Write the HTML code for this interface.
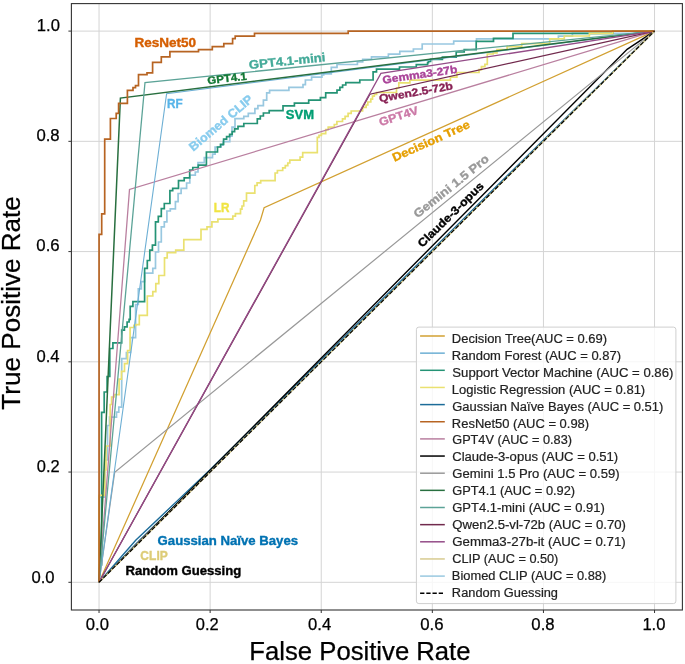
<!DOCTYPE html>
<html><head><meta charset="utf-8"><title>ROC</title><style>html,body{margin:0;padding:0;background:#fff;}svg{display:block;will-change:transform;}.ds{filter:saturate(0.7);}text{font-family:"Liberation Sans",sans-serif;}</style></head><body>
<svg width="685" height="664" viewBox="0 0 685 664">
<rect width="685" height="664" fill="#fff"/>
<defs><clipPath id="clipax"><rect x="71.4" y="3.6" width="611.0" height="606.4"/></clipPath></defs>
<path d="M99.04 3.6V610.0M71.4 582.30H682.4M210.14 3.6V610.0M71.4 472.06H682.4M321.24 3.6V610.0M71.4 361.82H682.4M432.34 3.6V610.0M71.4 251.58H682.4M543.44 3.6V610.0M71.4 141.34H682.4M654.54 3.6V610.0M71.4 31.10H682.4" stroke="#d4d4d4" stroke-width="1" fill="none"/>
<g clip-path="url(#clipax)"><g class="ds">
<path d="M99.04 582.3 V497.2 H104.8 V460 H107.5 V425.5 H109.5 V417.1 H116.5 V412.2 H118.8 V407.2 H121.7 V358.6 H126.4 V352.5 H130.5 V337.6 H135.6 V304.5 H138.3 V288.8 H141.3 V281.6 H144.6 V273.1 H152.8 V268.3 H155.5 V252 H158.5 V242 H161.3 V226.9 H164.3 V221.8 H166.9 V211 H170.3 V208.8 H175.4 V201.6 H178.1 V193.5 H181.1 V188.3 H186.6 V183 H189.8 V175.1 H195.3 V172 H198 V162.7 H204.3 V157.6 H212.5 V154.2 H215.1 V147 H221.1 V145.2 H223 V141.6 H229.8 V136.1 H232 V127.1 H235 V118.7 H243.8 V116.3 H248.3 V113.3 H254.9 V108.7 H257.9 V105.6 H263.4 V100.2 H266.7 V92.9 H269.6 V90.3 H288.9 V87.3 H303 V84.6 H305.4 V80 H311.6 V77.2 H321.9 V75 H323.7 V73.8 H331.3 V67.3 H337 V64.5 H357.4 V62 H362.7 V59.3 H371.5 V56.9 H388.4 V54.2 H399.8 V51.3 H413.4 V49 H422.2 V44 H453.7 V41.1 H476.5 V38.8 H558.4 V36.2 H572.4 V33.3 H640 V31.1 H654.55" stroke="#88CCEE" stroke-width="1.7" fill="none" stroke-linejoin="miter"/>
<path d="M99.04 582.30 L260.50 220.00 L264.10 207.80 L654.54 31.10" stroke="#E69F00" stroke-width="1.25" fill="none" stroke-linejoin="miter" stroke-linecap="butt"/>
<path d="M99.04 582.3 V565 H101.6 V412.3 H104.2 V392 H107.1 V376.5 H109.8 V348.5 H112.9 V342.8 H121.7 V330.2 H124.4 V326.8 H127.1 V322 H129.1 V319.3 H130.2 V306.3 H132.9 V301.7 H144.6 V268.3 H147.3 V260.5 H149.8 V250.2 H152.4 V245.1 H155.5 V221.8 H158.3 V216.4 H161.3 V208.6 H164.3 V203.5 H169.9 V190.7 H172.7 V188.3 H178.5 V180.6 H184.2 V177.8 H189.7 V170.1 H192.8 V167.5 H198.3 V165.1 H206.4 V152 H217.5 V147 H220.5 V144.3 H223.6 V139.2 H226.6 V136.7 H229.6 V134.3 H232.2 V131.6 H234.6 V128.9 H238 V126.3 H243.8 V123.5 H257.3 V118.9 H260.3 V116 H263.4 V113 H269.2 V110.7 H283 V105.8 H294.4 V103.1 H308.7 V100.2 H320.4 V97.6 H325.7 V92.9 H337 V90.2 H339.9 V87.3 H342.6 V85 H345.8 V82.6 H359.8 V80 H373.1 V71.9 H376.5 V69.2 H399.5 V67 H416.3 V64.7 H427.6 V62.6 H428.5 V61.5 H430.6 V59.3 H442.4 V57.2 H456.2 V52 H464.2 V49.6 H476.2 V41.4 H493.5 V38.4 H513 V33.4 H612.7 V31.1 H654.55" stroke="#009E73" stroke-width="1.7" fill="none" stroke-linejoin="miter"/>
<path d="M99.04 582.3 V495.3 H104.8 V470 H106 V446 H110.2 V404.5 H111.6 V397 H114.3 V394.6 H119.1 V379.2 H121.5 V371.3 H124.5 V363.6 H127.6 V350.5 H130.1 V327.5 H133.9 V325.4 H135.9 V324.7 H139.3 V315.3 H147.3 V296 H152.8 V291.6 H155.8 V283.6 H158.8 V275.5 H164.5 V257.8 H167.2 V252.7 H175.7 V250.2 H183.8 V239.6 H201 V229.3 H207 V226.9 H211.9 V221.8 H217.9 V219.2 H232.8 V216.2 H235.4 V213.6 H240.5 V209.1 H242 V206 H243.7 V200.8 H246.5 V193.1 H254.8 V185.5 H257.1 V182.9 H260.7 V180.7 H275.1 V173 H277.4 V170.5 H282.7 V167.9 H285.3 V165.6 H287.8 V163 H289.8 V160.2 H300.1 V157.2 H302.7 V152.6 H317.3 V137.3 H319 V135.3 H321.4 V133.7 H325.7 V129.6 H328.2 V127.1 H334.3 V124.5 H336.9 V121.5 H342.5 V118.9 H345.1 V116.4 H348.1 V113.3 H351.2 V111 H362.6 V107.3 H366.1 V105 H367.8 V102 H370.8 V99.1 H372.5 V96.2 H374.3 V94.5 H376.6 V92.5 H396.5 V88 H398.8 V82.8 H409.9 V80.1 H450.4 V77.2 H456.9 V72.5 H479 V69.6 H481.4 V66.7 H484.9 V64.3 H487.3 V54 H493.1 V52.8 H497 V49.5 H507.1 V46.6 H521.7 V43.7 H549.7 V38.9 H564.3 V36 H589.4 V33.3 H612.7 V31.1 H654.55" stroke="#F0E442" stroke-width="1.7" fill="none" stroke-linejoin="miter"/>
<path d="M99.04 582.30 L135.70 540.32 L210.14 469.66 L265.69 415.04 L376.79 304.80 L487.89 194.86 L571.22 112.68 L654.54 31.10" stroke="#0072B2" stroke-width="1.4" fill="none" stroke-linejoin="miter" stroke-linecap="butt"/>
<path d="M99.04 582.30 L137.93 541.32 L210.14 470.96 L265.69 416.34 L376.79 306.20 L654.54 31.10" stroke="#0072B2" stroke-width="0.9" fill="none" stroke-linejoin="miter" stroke-linecap="butt"/>
<path d="M99.04 582.30 L129.50 189.50 L654.54 31.10" stroke="#CC79A7" stroke-width="1.3" fill="none" stroke-linejoin="miter" stroke-linecap="butt"/>
<path d="M99.04 582.30 L627.10 49.30 L654.54 31.10" stroke="#000000" stroke-width="1.4" fill="none" stroke-linejoin="miter" stroke-linecap="butt"/>
<path d="M99.04 582.30 L114.70 472.20 L654.54 31.10" stroke="#999999" stroke-width="1.2" fill="none" stroke-linejoin="miter" stroke-linecap="butt"/>
<path d="M99.04 582.30 L166.60 93.70 L654.54 31.10" stroke="#56B4E9" stroke-width="1.1" fill="none" stroke-linejoin="miter" stroke-linecap="butt"/>
<path d="M99.04 582.30 L120.40 98.10 L654.54 31.10" stroke="#117733" stroke-width="1.5" fill="none" stroke-linejoin="miter" stroke-linecap="butt"/>
<path d="M99.04 582.30 L145.00 82.50 L654.54 31.10" stroke="#44AA99" stroke-width="1.3" fill="none" stroke-linejoin="miter" stroke-linecap="butt"/>
<path d="M99.04 582.30 L369.90 94.20 L654.54 31.10" stroke="#882255" stroke-width="1.3" fill="none" stroke-linejoin="miter" stroke-linecap="butt"/>
<path d="M99.04 582.30 L380.90 73.40 L654.54 31.10" stroke="#AA4499" stroke-width="1.25" fill="none" stroke-linejoin="miter" stroke-linecap="butt"/>
<path d="M99.04 582.30 L654.54 31.10" stroke="#DDCC77" stroke-width="1.5" fill="none" stroke-linejoin="miter" stroke-linecap="butt"/>
<path d="M99.07 582.3 V234.4 H101.7 V213.9 H104.7 V139.2 H110.4 V118.5 H116.2 V113.4 H118.6 V103.4 H127.4 V90.4 H133 V87.7 H135.5 V85.7 H138.5 V74.7 H147 V72.8 H152.6 V62.3 H161.3 V56.9 H169.9 V51.7 H198.5 V49.7 H212.3 V46.7 H223.8 V43.7 H232.6 V38.6 H235.2 V36.2 H254.5 V33.4 H348.2 V31.1 H654.55" stroke="#D55E00" stroke-width="1.7" fill="none" stroke-linejoin="miter"/>
<path d="M99.04 582.30 L654.54 31.10" stroke="#000" stroke-width="1.2" fill="none" stroke-linejoin="miter" stroke-linecap="butt" stroke-dasharray="4.3 1.9"/>
</g></g>
<rect x="71.4" y="3.6" width="611.00" height="606.40" fill="none" stroke="#333" stroke-width="1.1"/>
<path d="M99.04 610.0v3.0M71.4 582.30h-3.0M210.14 610.0v3.0M71.4 472.06h-3.0M321.24 610.0v3.0M71.4 361.82h-3.0M432.34 610.0v3.0M71.4 251.58h-3.0M543.44 610.0v3.0M71.4 141.34h-3.0M654.54 610.0v3.0M71.4 31.10h-3.0" stroke="#333" stroke-width="1" fill="none"/>
<text x="97.40" y="630.00" font-size="16.00" fill="#000" text-anchor="middle" textLength="23.15" lengthAdjust="spacingAndGlyphs" stroke="#000" stroke-width="0.25">0.0</text>
<text x="207.20" y="630.00" font-size="16.00" fill="#000" text-anchor="middle" textLength="22.86" lengthAdjust="spacingAndGlyphs" stroke="#000" stroke-width="0.25">0.2</text>
<text x="319.60" y="630.00" font-size="16.00" fill="#000" text-anchor="middle" textLength="23.13" lengthAdjust="spacingAndGlyphs" stroke="#000" stroke-width="0.25">0.4</text>
<text x="431.90" y="630.00" font-size="16.00" fill="#000" text-anchor="middle" textLength="23.32" lengthAdjust="spacingAndGlyphs" stroke="#000" stroke-width="0.25">0.6</text>
<text x="543.00" y="630.00" font-size="16.00" fill="#000" text-anchor="middle" textLength="23.24" lengthAdjust="spacingAndGlyphs" stroke="#000" stroke-width="0.25">0.8</text>
<text x="653.90" y="630.00" font-size="16.00" fill="#000" text-anchor="middle" textLength="23.05" lengthAdjust="spacingAndGlyphs" stroke="#000" stroke-width="0.25">1.0</text>
<text x="42.95" y="583.20" font-size="16.00" fill="#000" text-anchor="middle" textLength="23.15" lengthAdjust="spacingAndGlyphs" stroke="#000" stroke-width="0.25">0.0</text>
<text x="48.31" y="471.76" font-size="16.00" fill="#000" text-anchor="middle" textLength="22.86" lengthAdjust="spacingAndGlyphs" stroke="#000" stroke-width="0.25">0.2</text>
<text x="47.98" y="361.52" font-size="16.00" fill="#000" text-anchor="middle" textLength="23.13" lengthAdjust="spacingAndGlyphs" stroke="#000" stroke-width="0.25">0.4</text>
<text x="48.01" y="251.28" font-size="16.00" fill="#000" text-anchor="middle" textLength="23.32" lengthAdjust="spacingAndGlyphs" stroke="#000" stroke-width="0.25">0.6</text>
<text x="48.05" y="141.04" font-size="16.00" fill="#000" text-anchor="middle" textLength="23.24" lengthAdjust="spacingAndGlyphs" stroke="#000" stroke-width="0.25">0.8</text>
<text x="48.39" y="30.80" font-size="16.00" fill="#000" text-anchor="middle" textLength="23.05" lengthAdjust="spacingAndGlyphs" stroke="#000" stroke-width="0.25">1.0</text>
<text x="359.95" y="660.20" font-size="25.00" fill="#000" text-anchor="middle" textLength="221.18" lengthAdjust="spacingAndGlyphs" stroke="#000" stroke-width="0.25">False Positive Rate</text>
<text x="19.90" y="302.90" font-size="25.00" fill="#000" text-anchor="middle" textLength="213.53" lengthAdjust="spacingAndGlyphs" stroke="#000" stroke-width="0.25" transform="rotate(-90 19.9 302.90)">True Positive Rate</text>
<text transform="translate(165.25 42.80) rotate(0)" x="0" y="4.17" font-size="12.10" font-weight="bold" fill="#D55E00" stroke="#D55E00" stroke-width="0.35" text-anchor="middle" textLength="61.77" lengthAdjust="spacingAndGlyphs">ResNet50</text>
<text transform="translate(287.05 60.95) rotate(-5.8)" x="0" y="4.17" font-size="12.10" font-weight="bold" fill="#44AA99" stroke="#44AA99" stroke-width="0.35" text-anchor="middle" textLength="76.84" lengthAdjust="spacingAndGlyphs">GPT4.1-mini</text>
<text transform="translate(227.00 78.35) rotate(-6.5)" x="0" y="3.66" font-size="10.60" font-weight="bold" fill="#117733" stroke="#117733" stroke-width="0.35" text-anchor="middle" textLength="39.45" lengthAdjust="spacingAndGlyphs">GPT4.1</text>
<text transform="translate(174.80 103.45) rotate(0)" x="0" y="4.17" font-size="12.10" font-weight="bold" fill="#56B4E9" stroke="#56B4E9" stroke-width="0.35" text-anchor="middle" textLength="15.61" lengthAdjust="spacingAndGlyphs">RF</text>
<text transform="translate(220.80 122.90) rotate(-40.3)" x="0" y="4.21" font-size="12.20" font-weight="bold" fill="#88CCEE" stroke="#88CCEE" stroke-width="0.35" text-anchor="middle" textLength="79.24" lengthAdjust="spacingAndGlyphs">Biomed CLIP</text>
<text transform="translate(299.95 114.50) rotate(0)" x="0" y="4.17" font-size="12.10" font-weight="bold" fill="#009E73" stroke="#009E73" stroke-width="0.35" text-anchor="middle" textLength="28.16" lengthAdjust="spacingAndGlyphs">SVM</text>
<text transform="translate(419.85 74.45) rotate(-8.5)" x="0" y="3.73" font-size="10.80" font-weight="bold" fill="#AA4499" stroke="#AA4499" stroke-width="0.35" text-anchor="middle" textLength="75.47" lengthAdjust="spacingAndGlyphs">Gemma3-27b</text>
<text transform="translate(415.95 92.00) rotate(-10)" x="0" y="3.73" font-size="10.80" font-weight="bold" fill="#882255" stroke="#882255" stroke-width="0.35" text-anchor="middle" textLength="74.66" lengthAdjust="spacingAndGlyphs">Qwen2.5-72b</text>
<text transform="translate(398.55 116.05) rotate(-18)" x="0" y="4.00" font-size="11.60" font-weight="bold" fill="#CC79A7" stroke="#CC79A7" stroke-width="0.35" text-anchor="middle" textLength="40.61" lengthAdjust="spacingAndGlyphs">GPT4V</text>
<text transform="translate(430.90 140.85) rotate(-24.4)" x="0" y="4.07" font-size="11.80" font-weight="bold" fill="#E69F00" stroke="#E69F00" stroke-width="0.35" text-anchor="middle" textLength="83.76" lengthAdjust="spacingAndGlyphs">Decision Tree</text>
<text transform="translate(451.10 186.25) rotate(-38.8)" x="0" y="4.07" font-size="11.80" font-weight="bold" fill="#999999" stroke="#999999" stroke-width="0.35" text-anchor="middle" textLength="93.03" lengthAdjust="spacingAndGlyphs">Gemini 1.5 Pro</text>
<text transform="translate(450.60 214.50) rotate(-44.4)" x="0" y="3.97" font-size="11.50" font-weight="bold" fill="#000000" stroke="#000000" stroke-width="0.35" text-anchor="middle" textLength="87.41" lengthAdjust="spacingAndGlyphs">Claude-3-opus</text>
<text transform="translate(221.60 208.30) rotate(0)" x="0" y="4.17" font-size="12.10" font-weight="bold" fill="#F0E442" stroke="#F0E442" stroke-width="0.35" text-anchor="middle" textLength="15.63" lengthAdjust="spacingAndGlyphs">LR</text>
<text transform="translate(227.80 540.45) rotate(0)" x="0" y="4.17" font-size="12.10" font-weight="bold" fill="#0072B2" stroke="#0072B2" stroke-width="0.35" text-anchor="middle" textLength="140.49" lengthAdjust="spacingAndGlyphs">Gaussian Naïve Bayes</text>
<text transform="translate(154.05 555.80) rotate(0)" x="0" y="4.17" font-size="12.10" font-weight="bold" fill="#DDCC77" stroke="#DDCC77" stroke-width="0.35" text-anchor="middle" textLength="27.38" lengthAdjust="spacingAndGlyphs">CLIP</text>
<text transform="translate(183.35 570.35) rotate(0)" x="0" y="4.17" font-size="12.10" font-weight="bold" fill="#000" stroke="#000" stroke-width="0.35" text-anchor="middle" textLength="115.80" lengthAdjust="spacingAndGlyphs">Random Guessing</text>
<rect x="416.4" y="327.1" width="259.50" height="276.50" rx="2.5" ry="2.5" fill="#fff" fill-opacity="0.8" stroke="#cfcfcf" stroke-width="1"/>
<path class="ds" d="M420.1 336.00H444.8" stroke="#E69F00" stroke-width="1.5"/>
<text x="451.86" y="342.70" font-size="12.0" fill="#222" stroke="#222" stroke-width="0.2" textLength="155.22" lengthAdjust="spacingAndGlyphs">Decision Tree(AUC = 0.69)</text>
<path class="ds" d="M420.1 353.15H444.8" stroke="#56B4E9" stroke-width="1.5"/>
<text x="451.86" y="359.66" font-size="12.0" fill="#222" stroke="#222" stroke-width="0.2" textLength="169.13" lengthAdjust="spacingAndGlyphs">Random Forest (AUC = 0.87)</text>
<path class="ds" d="M420.1 370.30H444.8" stroke="#009E73" stroke-width="1.5"/>
<text x="452.31" y="376.62" font-size="12.0" fill="#222" stroke="#222" stroke-width="0.2" textLength="221.08" lengthAdjust="spacingAndGlyphs">Support Vector Machine (AUC = 0.86)</text>
<path class="ds" d="M420.1 387.45H444.8" stroke="#F0E442" stroke-width="1.5"/>
<text x="451.86" y="393.58" font-size="12.0" fill="#222" stroke="#222" stroke-width="0.2" textLength="193.35" lengthAdjust="spacingAndGlyphs">Logistic Regression (AUC = 0.81)</text>
<path class="ds" d="M420.1 404.60H444.8" stroke="#0072B2" stroke-width="1.5"/>
<text x="452.25" y="410.54" font-size="12.0" fill="#222" stroke="#222" stroke-width="0.2" textLength="211.08" lengthAdjust="spacingAndGlyphs">Gaussian Naïve Bayes (AUC = 0.51)</text>
<path class="ds" d="M420.1 421.75H444.8" stroke="#D55E00" stroke-width="1.5"/>
<text x="451.86" y="427.50" font-size="12.0" fill="#222" stroke="#222" stroke-width="0.2" textLength="137.28" lengthAdjust="spacingAndGlyphs">ResNet50 (AUC = 0.98)</text>
<path class="ds" d="M420.1 438.90H444.8" stroke="#CC79A7" stroke-width="1.5"/>
<text x="452.26" y="444.46" font-size="12.0" fill="#222" stroke="#222" stroke-width="0.2" textLength="119.70" lengthAdjust="spacingAndGlyphs">GPT4V (AUC = 0.83)</text>
<path class="ds" d="M420.1 456.05H444.8" stroke="#000000" stroke-width="1.5"/>
<text x="452.25" y="461.42" font-size="12.0" fill="#222" stroke="#222" stroke-width="0.2" textLength="165.96" lengthAdjust="spacingAndGlyphs">Claude-3-opus (AUC = 0.51)</text>
<path class="ds" d="M420.1 473.20H444.8" stroke="#999999" stroke-width="1.5"/>
<text x="452.25" y="478.38" font-size="12.0" fill="#222" stroke="#222" stroke-width="0.2" textLength="167.31" lengthAdjust="spacingAndGlyphs">Gemini 1.5 Pro (AUC = 0.59)</text>
<path class="ds" d="M420.1 490.35H444.8" stroke="#117733" stroke-width="1.5"/>
<text x="452.26" y="495.34" font-size="12.0" fill="#222" stroke="#222" stroke-width="0.2" textLength="122.84" lengthAdjust="spacingAndGlyphs">GPT4.1 (AUC = 0.92)</text>
<path class="ds" d="M420.1 507.50H444.8" stroke="#44AA99" stroke-width="1.5"/>
<text x="452.25" y="512.30" font-size="12.0" fill="#222" stroke="#222" stroke-width="0.2" textLength="152.50" lengthAdjust="spacingAndGlyphs">GPT4.1-mini (AUC = 0.91)</text>
<path class="ds" d="M420.1 524.65H444.8" stroke="#882255" stroke-width="1.5"/>
<text x="452.31" y="529.26" font-size="12.0" fill="#222" stroke="#222" stroke-width="0.2" textLength="173.70" lengthAdjust="spacingAndGlyphs">Qwen2.5-vl-72b (AUC = 0.70)</text>
<path class="ds" d="M420.1 541.80H444.8" stroke="#AA4499" stroke-width="1.5"/>
<text x="452.24" y="546.22" font-size="12.0" fill="#222" stroke="#222" stroke-width="0.2" textLength="173.46" lengthAdjust="spacingAndGlyphs">Gemma3-27b-it (AUC = 0.71)</text>
<path class="ds" d="M420.1 558.95H444.8" stroke="#DDCC77" stroke-width="1.5"/>
<text x="452.26" y="563.18" font-size="12.0" fill="#222" stroke="#222" stroke-width="0.2" textLength="106.11" lengthAdjust="spacingAndGlyphs">CLIP (AUC = 0.50)</text>
<path class="ds" d="M420.1 576.10H444.8" stroke="#88CCEE" stroke-width="1.5"/>
<text x="451.87" y="580.14" font-size="12.0" fill="#222" stroke="#222" stroke-width="0.2" textLength="154.41" lengthAdjust="spacingAndGlyphs">Biomed CLIP (AUC = 0.88)</text>
<path d="M420.1 593.25H444.8" stroke="#000" stroke-width="1.3" stroke-dasharray="4.3 1.9"/>
<text x="451.88" y="597.10" font-size="12.0" fill="#222" stroke="#222" stroke-width="0.2" textLength="106.11" lengthAdjust="spacingAndGlyphs">Random Guessing</text>
</svg></body></html>
